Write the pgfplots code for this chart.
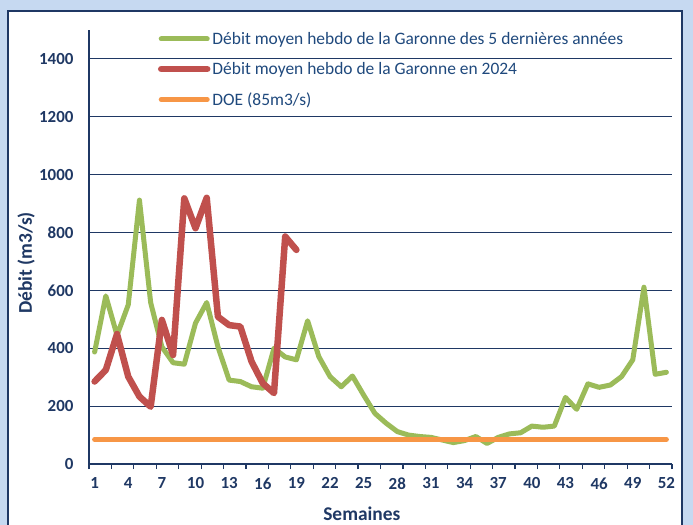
\documentclass[border=0pt]{standalone}
\usepackage{pgfplots}
\pgfplotsset{compat=1.18}
\usepackage{fontspec}
\setmainfont{Carlito}
\definecolor{navy}{HTML}{1F3864}
\definecolor{txt}{HTML}{1F497D}
\definecolor{bgblue}{HTML}{C6D9F1}
\definecolor{cgreen}{HTML}{9BBB59}
\definecolor{cred}{HTML}{C0504D}
\definecolor{corange}{HTML}{F79646}
\begin{document}
\begin{tikzpicture}[x=1bp,y=1bp]
\useasboundingbox (-89bp,-61bp) rectangle (604bp,464bp);
\fill[bgblue] (-89bp,-61bp) rectangle (604bp,464bp);
\filldraw[fill=white, draw=navy, line width=1.5bp] (-81bp,-90bp) rectangle (593bp,453bp);
\begin{axis}[
  at={(0,0)}, anchor=south west, scale only axis,
  width=583bp, height=434bp,
  xmin=0.5, xmax=52.5, ymin=0, ymax=1500,
  axis x line*=bottom, axis y line*=left,
  axis line style={navy, line width=1.4bp},
  xtick={1,4,...,52}, major tick length=0pt,
  extra x ticks={0.5,2.5,...,52.5}, extra x tick labels={},
  extra x tick style={major tick length=5bp, tick align=outside, tick style={navy, line width=1.2bp}},
  ytick={0,200,...,1400},
  ymajorgrids, grid style={navy, line width=1.1bp},
  /pgf/number format/1000 sep={},
  /pgf/number format/assume math mode=true,
  ticklabel style={font=\bfseries\fontsize{17}{20}\selectfont, text=navy},
  yticklabel style={anchor=east, xshift=-12bp},
  xticklabel style={anchor=north, yshift=-10bp},
  xlabel={Semaines}, ylabel={Débit (m3/s)},
  label style={font=\bfseries\fontsize{19.5}{22}\selectfont, text=navy},
  xlabel style={at={(axis description cs:0.468,-0.115)}, anchor=center},
  ylabel style={at={(axis description cs:-0.108,0.463)}, anchor=center},
  legend style={at={(axis description cs:0.118,1.0)}, anchor=north west, draw=none, fill=none,
    font=\fontsize{17.5}{20}\selectfont, text=txt, row sep=12.5bp, inner sep=0pt,
    cells={anchor=west}},
  legend cell align=left,
  legend image code/.code={\draw[#1] (0bp,0bp) -- (46bp,0bp);},
  every axis plot/.append style={line join=round, line cap=round},
]
\addplot[cgreen, line width=5bp] coordinates {
(1,387) (2,581) (3,445) (4,550) (5,912) (6,558) (7,405) (8,350) (9,345) (10,487)
(11,558) (12,405) (13,290) (14,285) (15,267) (16,262) (17,400) (18,370) (19,360) (20,495)
(21,371) (22,302) (23,267) (24,304) (25,238) (26,175) (27,141) (28,112) (29,100) (30,95)
(31,92) (32,83) (33,74) (34,81) (35,95) (36,71) (37,92) (38,104) (39,108) (40,131)
(41,127) (42,131) (43,230) (44,189) (45,277) (46,265) (47,273) (48,302) (49,360) (50,611)
(51,310) (52,317)};
\addlegendentry{Débit moyen hebdo de la Garonne des 5 dernières années}
\addplot[cred, line width=6.5bp] coordinates {
(1,285) (2,325) (3,449) (4,302) (5,233) (6,198) (7,498) (8,377) (9,918) (10,815)
(11,920) (12,509) (13,480) (14,475) (15,354) (16,279) (17,245) (18,786) (19,740)};
\addlegendentry{Débit moyen hebdo de la Garonne en 2024}
\addplot[corange, line width=5bp] coordinates {(1,85) (52,85)};
\addlegendentry{DOE (85m3/s)}
\end{axis}
\end{tikzpicture}
\end{document}
